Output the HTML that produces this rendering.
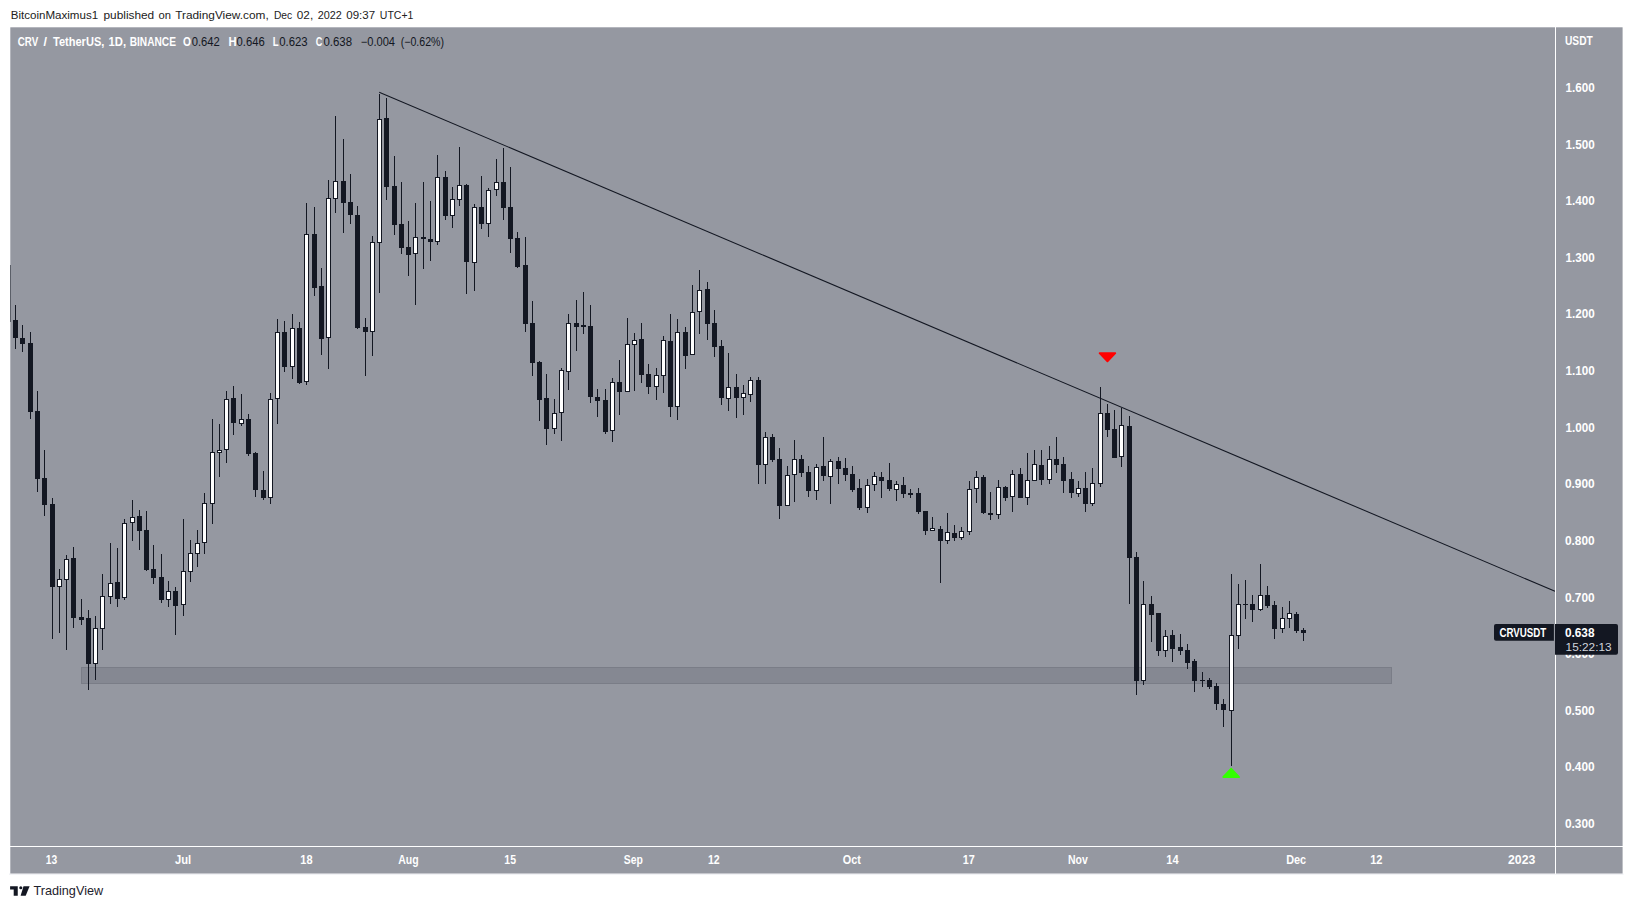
<!DOCTYPE html>
<html><head><meta charset="utf-8"><title>CRV / TetherUS chart</title>
<style>
html,body{margin:0;padding:0;background:#fff}
body{width:1633px;height:909px;position:relative;overflow:hidden;font-family:"Liberation Sans", sans-serif}
</style></head><body>
<svg width="1633" height="909" viewBox="0 0 1633 909" style="position:absolute;left:0;top:0" font-family='"Liberation Sans", sans-serif'><rect x="9" y="873.6" width="1614.5" height="1" fill="#e9ebf0"/><rect x="10.3" y="27.3" width="1612.3" height="846.2" fill="#9598a1"/><rect x="81.5" y="667.5" width="1310" height="16" fill="#858892" stroke="#7a7d87" stroke-width="1" shape-rendering="crispEdges"/><rect x="10" y="265" width="1" height="57" fill="#131722" opacity="0.55" shape-rendering="crispEdges"/><g shape-rendering="crispEdges"><path fill="#131722" d="M15 305h1v44h-1zM22 325h1v27h-1zM30 332h1v87h-1zM37 391h1v101h-1zM44 450h1v66h-1zM52 498h1v141h-1zM59 569h1v64h-1zM66 555h1v95h-1zM73 547h1v81h-1zM81 599h1v26h-1zM88 610h1v80h-1zM95 616h1v64h-1zM102 574h1v76h-1zM110 543h1v61h-1zM117 548h1v59h-1zM124 519h1v81h-1zM132 500h1v41h-1zM139 510h1v40h-1zM146 511h1v60h-1zM153 545h1v39h-1zM161 554h1v49h-1zM168 581h1v26h-1zM175 587h1v48h-1zM183 519h1v97h-1zM190 540h1v42h-1zM197 530h1v37h-1zM204 493h1v61h-1zM212 419h1v105h-1zM219 424h1v53h-1zM226 391h1v72h-1zM233 386h1v49h-1zM241 394h1v32h-1zM248 414h1v42h-1zM255 452h1v45h-1zM263 471h1v29h-1zM270 393h1v111h-1zM277 319h1v105h-1zM284 321h1v51h-1zM292 314h1v65h-1zM299 322h1v62h-1zM306 203h1v182h-1zM314 207h1v89h-1zM321 268h1v87h-1zM328 180h1v189h-1zM335 116h1v97h-1zM343 139h1v94h-1zM350 174h1v50h-1zM357 206h1v123h-1zM365 318h1v58h-1zM372 236h1v120h-1zM379 94h1v199h-1zM386 98h1v102h-1zM394 156h1v79h-1zM401 182h1v72h-1zM408 221h1v55h-1zM415 203h1v102h-1zM423 182h1v87h-1zM430 201h1v60h-1zM437 155h1v90h-1zM445 171h1v49h-1zM452 187h1v41h-1zM459 147h1v59h-1zM466 184h1v110h-1zM474 204h1v87h-1zM481 176h1v53h-1zM488 188h1v49h-1zM496 159h1v37h-1zM503 148h1v72h-1zM510 167h1v86h-1zM517 232h1v36h-1zM525 237h1v95h-1zM532 301h1v75h-1zM539 361h1v60h-1zM546 374h1v71h-1zM554 399h1v35h-1zM561 368h1v73h-1zM568 314h1v76h-1zM576 300h1v51h-1zM583 292h1v42h-1zM590 305h1v98h-1zM597 389h1v28h-1zM605 389h1v45h-1zM612 378h1v64h-1zM619 360h1v55h-1zM627 318h1v74h-1zM634 333h1v58h-1zM641 323h1v60h-1zM648 364h1v30h-1zM656 368h1v32h-1zM663 336h1v57h-1zM670 314h1v103h-1zM677 319h1v101h-1zM685 327h1v42h-1zM692 285h1v70h-1zM699 270h1v64h-1zM707 282h1v58h-1zM714 310h1v47h-1zM721 340h1v65h-1zM728 353h1v58h-1zM736 374h1v44h-1zM743 385h1v30h-1zM750 377h1v25h-1zM758 377h1v107h-1zM765 432h1v52h-1zM772 434h1v28h-1zM779 448h1v71h-1zM787 466h1v40h-1zM794 440h1v62h-1zM801 455h1v22h-1zM808 466h1v31h-1zM816 464h1v36h-1zM823 437h1v44h-1zM830 459h1v45h-1zM838 457h1v27h-1zM845 458h1v23h-1zM852 466h1v26h-1zM859 479h1v31h-1zM867 479h1v34h-1zM874 472h1v19h-1zM881 472h1v26h-1zM889 463h1v28h-1zM896 481h1v20h-1zM903 477h1v21h-1zM910 489h1v9h-1zM918 488h1v26h-1zM925 511h1v24h-1zM932 517h1v14h-1zM940 526h1v57h-1zM947 513h1v31h-1zM954 525h1v16h-1zM961 527h1v13h-1zM969 481h1v54h-1zM976 471h1v32h-1zM983 475h1v39h-1zM990 492h1v28h-1zM998 480h1v39h-1zM1005 486h1v15h-1zM1012 470h1v42h-1zM1020 468h1v30h-1zM1027 453h1v52h-1zM1034 450h1v31h-1zM1041 450h1v35h-1zM1049 446h1v38h-1zM1056 437h1v36h-1zM1063 457h1v36h-1zM1071 472h1v26h-1zM1078 481h1v16h-1zM1085 472h1v40h-1zM1092 468h1v38h-1zM1100 387h1v100h-1zM1107 404h1v33h-1zM1114 410h1v48h-1zM1121 408h1v59h-1zM1129 416h1v188h-1zM1136 552h1v143h-1zM1143 581h1v104h-1zM1151 596h1v46h-1zM1158 613h1v43h-1zM1165 630h1v27h-1zM1172 630h1v32h-1zM1180 634h1v21h-1zM1187 644h1v25h-1zM1194 659h1v33h-1zM1202 672h1v15h-1zM1209 678h1v11h-1zM1216 683h1v27h-1zM1223 699h1v28h-1zM1231 574h1v192h-1zM1238 584h1v65h-1zM1245 580h1v39h-1zM1252 595h1v27h-1zM1260 564h1v47h-1zM1267 586h1v22h-1zM1274 601h1v38h-1zM1282 607h1v26h-1zM1289 601h1v27h-1zM1296 612h1v21h-1zM1303 628h1v13h-1z"/><path fill="#131722" d="M13 320h5v18h-5zM20 338h5v6h-5zM28 343h5v69h-5zM35 411h5v68h-5zM42 478h5v27h-5zM50 504h5v83h-5zM57 579h5v8h-5zM64 559h5v21h-5zM71 558h5v60h-5zM79 617h5v3h-5zM86 618h5v46h-5zM93 628h5v36h-5zM100 596h5v33h-5zM108 583h5v14h-5zM115 582h5v17h-5zM122 523h5v75h-5zM130 517h5v6h-5zM137 516h5v15h-5zM144 530h5v40h-5zM151 569h5v9h-5zM159 577h5v23h-5zM166 591h5v9h-5zM173 591h5v15h-5zM181 571h5v34h-5zM188 553h5v19h-5zM195 543h5v11h-5zM202 503h5v40h-5zM210 452h5v52h-5zM217 450h5v3h-5zM224 399h5v51h-5zM231 398h5v25h-5zM239 419h5v5h-5zM246 419h5v35h-5zM253 453h5v37h-5zM261 490h5v8h-5zM268 399h5v99h-5zM275 332h5v67h-5zM282 332h5v35h-5zM290 328h5v39h-5zM297 328h5v55h-5zM304 234h5v148h-5zM312 234h5v54h-5zM319 286h5v53h-5zM326 198h5v140h-5zM333 181h5v18h-5zM341 181h5v22h-5zM348 202h5v13h-5zM355 215h5v113h-5zM363 327h5v5h-5zM370 242h5v90h-5zM377 119h5v124h-5zM384 118h5v69h-5zM392 186h5v39h-5zM399 224h5v24h-5zM406 247h5v8h-5zM413 237h5v17h-5zM421 237h5v2h-5zM428 239h5v3h-5zM435 177h5v65h-5zM443 177h5v39h-5zM450 199h5v17h-5zM457 185h5v15h-5zM464 185h5v77h-5zM472 207h5v56h-5zM479 207h5v17h-5zM486 190h5v34h-5zM494 182h5v8h-5zM501 182h5v26h-5zM508 207h5v32h-5zM515 238h5v29h-5zM523 265h5v59h-5zM530 323h5v40h-5zM537 362h5v38h-5zM544 398h5v31h-5zM552 413h5v16h-5zM559 370h5v43h-5zM566 323h5v49h-5zM574 323h5v4h-5zM581 325h5v2h-5zM588 326h5v71h-5zM595 397h5v4h-5zM603 400h5v32h-5zM610 382h5v49h-5zM617 382h5v10h-5zM625 344h5v48h-5zM632 340h5v5h-5zM639 339h5v36h-5zM646 374h5v13h-5zM654 375h5v12h-5zM661 340h5v36h-5zM668 341h5v66h-5zM675 332h5v75h-5zM683 332h5v24h-5zM690 312h5v43h-5zM697 290h5v22h-5zM705 289h5v35h-5zM712 323h5v24h-5zM719 346h5v52h-5zM726 387h5v12h-5zM734 387h5v11h-5zM741 393h5v5h-5zM748 380h5v15h-5zM756 380h5v85h-5zM763 437h5v28h-5zM770 437h5v23h-5zM777 459h5v47h-5zM785 475h5v31h-5zM792 459h5v16h-5zM799 459h5v14h-5zM806 472h5v19h-5zM814 467h5v24h-5zM821 466h5v10h-5zM828 461h5v16h-5zM836 461h5v8h-5zM843 468h5v7h-5zM850 474h5v16h-5zM857 488h5v20h-5zM865 485h5v23h-5zM872 476h5v9h-5zM879 477h5v4h-5zM887 480h5v9h-5zM894 484h5v6h-5zM901 485h5v9h-5zM908 493h5v2h-5zM916 493h5v19h-5zM923 511h5v20h-5zM930 528h5v3h-5zM938 529h5v12h-5zM945 532h5v9h-5zM952 533h5v5h-5zM959 531h5v7h-5zM967 489h5v43h-5zM974 477h5v12h-5zM981 477h5v36h-5zM988 513h5v2h-5zM996 487h5v28h-5zM1003 487h5v11h-5zM1010 474h5v23h-5zM1018 474h5v24h-5zM1025 480h5v18h-5zM1032 464h5v17h-5zM1039 465h5v15h-5zM1047 459h5v21h-5zM1054 459h5v6h-5zM1061 464h5v17h-5zM1069 479h5v14h-5zM1076 488h5v6h-5zM1083 488h5v16h-5zM1090 483h5v21h-5zM1098 413h5v71h-5zM1105 413h5v17h-5zM1112 429h5v29h-5zM1119 425h5v32h-5zM1127 426h5v132h-5zM1134 557h5v124h-5zM1141 604h5v77h-5zM1149 604h5v11h-5zM1156 613h5v38h-5zM1163 636h5v15h-5zM1170 635h5v14h-5zM1178 647h5v4h-5zM1185 650h5v13h-5zM1192 661h5v20h-5zM1200 680h5v1h-5zM1207 680h5v7h-5zM1214 686h5v18h-5zM1221 704h5v6h-5zM1229 635h5v76h-5zM1236 604h5v32h-5zM1243 604h5v1h-5zM1250 604h5v6h-5zM1258 595h5v15h-5zM1265 595h5v11h-5zM1272 605h5v24h-5zM1280 618h5v11h-5zM1287 613h5v6h-5zM1294 614h5v17h-5zM1301 630h5v3h-5z"/><path fill="#ffffff" d="M58 580h3v6h-3zM65 560h3v19h-3zM94 629h3v34h-3zM101 597h3v31h-3zM109 584h3v12h-3zM123 524h3v73h-3zM131 518h3v4h-3zM167 592h3v7h-3zM182 572h3v32h-3zM189 554h3v17h-3zM196 544h3v9h-3zM203 504h3v38h-3zM211 453h3v50h-3zM218 451h3v1h-3zM225 400h3v49h-3zM240 420h3v3h-3zM269 400h3v97h-3zM276 333h3v65h-3zM291 329h3v37h-3zM305 235h3v146h-3zM327 199h3v138h-3zM334 182h3v16h-3zM371 243h3v88h-3zM378 120h3v122h-3zM414 238h3v15h-3zM436 178h3v63h-3zM451 200h3v15h-3zM458 186h3v13h-3zM473 208h3v54h-3zM487 191h3v32h-3zM495 183h3v6h-3zM553 414h3v14h-3zM560 371h3v41h-3zM567 324h3v47h-3zM611 383h3v47h-3zM626 345h3v46h-3zM633 341h3v3h-3zM655 376h3v10h-3zM662 341h3v34h-3zM676 333h3v73h-3zM691 313h3v41h-3zM698 291h3v20h-3zM727 388h3v10h-3zM742 394h3v3h-3zM749 381h3v13h-3zM764 438h3v26h-3zM786 476h3v29h-3zM793 460h3v14h-3zM815 468h3v22h-3zM829 462h3v14h-3zM866 486h3v21h-3zM873 477h3v7h-3zM895 485h3v4h-3zM931 529h3v1h-3zM946 533h3v7h-3zM960 532h3v5h-3zM968 490h3v41h-3zM975 478h3v10h-3zM997 488h3v26h-3zM1011 475h3v21h-3zM1026 481h3v16h-3zM1033 465h3v15h-3zM1048 460h3v19h-3zM1077 489h3v4h-3zM1091 484h3v19h-3zM1099 414h3v69h-3zM1120 426h3v30h-3zM1142 605h3v75h-3zM1164 637h3v13h-3zM1230 636h3v74h-3zM1237 605h3v30h-3zM1259 596h3v13h-3zM1281 619h3v9h-3zM1288 614h3v4h-3z"/></g><line x1="379.2" y1="92.2" x2="1555" y2="591.3" stroke="#131722" stroke-width="1.05"/><path d="M1099.6 353.2H1115.3L1107.45 361.4z" fill="#ff0000" stroke="#ff0000" stroke-width="1.8" stroke-linejoin="round"/><path d="M1231.15 768.5L1239.2 777.1H1223.1z" fill="#33ff00" stroke="#33ff00" stroke-width="1.6" stroke-linejoin="round"/><g shape-rendering="crispEdges"><rect x="10" y="846" width="1612.5" height="1" fill="#ffffff"/><rect x="1555" y="27" width="1" height="846.5" fill="#ffffff"/></g><text transform="translate(10.70 18.60) scale(0.9905 1)" font-size="11.7" font-weight="normal" fill="#222222">BitcoinMaximus1</text><text transform="translate(103.50 18.60) scale(1.0134 1)" font-size="11.7" font-weight="normal" fill="#222222">published</text><text transform="translate(158.40 18.60) scale(0.9600 1)" font-size="11.7" font-weight="normal" fill="#222222">on</text><text transform="translate(175.20 18.60) scale(1.0142 1)" font-size="11.7" font-weight="normal" fill="#222222">TradingView.com,</text><text transform="translate(273.90 18.60) scale(0.8787 1)" font-size="11.7" font-weight="normal" fill="#222222">Dec</text><text transform="translate(296.80 18.60) scale(1.0062 1)" font-size="11.7" font-weight="normal" fill="#222222">02,</text><text transform="translate(317.80 18.60) scale(0.9255 1)" font-size="11.7" font-weight="normal" fill="#222222">2022</text><text transform="translate(346.30 18.60) scale(0.9844 1)" font-size="11.7" font-weight="normal" fill="#222222">09:37</text><text transform="translate(379.80 18.60) scale(0.8984 1)" font-size="11.7" font-weight="normal" fill="#222222">UTC+1</text><text transform="translate(17.70 46.00) scale(0.8162 1)" font-size="12" font-weight="bold" fill="#fff">CRV</text><text transform="translate(43.50 46.00) scale(1.0500 1)" font-size="12" font-weight="bold" fill="#fff">/</text><text transform="translate(53.00 46.00) scale(0.9215 1)" font-size="12" font-weight="bold" fill="#fff">TetherUS,</text><text transform="translate(108.60 46.00) scale(0.9378 1)" font-size="12" font-weight="bold" fill="#fff">1D,</text><text transform="translate(129.70 46.00) scale(0.8452 1)" font-size="12" font-weight="bold" fill="#fff">BINANCE</text><text transform="translate(183.00 46.00) scale(0.8556 1)" font-size="12" font-weight="bold" fill="#fff">O</text><text transform="translate(228.50 46.00) scale(0.9375 1)" font-size="12" font-weight="bold" fill="#fff">H</text><text transform="translate(272.80 46.00) scale(0.8000 1)" font-size="12" font-weight="bold" fill="#fff">L</text><text transform="translate(315.80 46.00) scale(0.7556 1)" font-size="12" font-weight="bold" fill="#fff">C</text><text transform="translate(191.70 46.00) scale(0.9356 1)" font-size="12" font-weight="normal" fill="#131722">0.642</text><text transform="translate(236.60 46.00) scale(0.9389 1)" font-size="12" font-weight="normal" fill="#131722">0.646</text><text transform="translate(279.20 46.00) scale(0.9488 1)" font-size="12" font-weight="normal" fill="#131722">0.623</text><text transform="translate(323.50 46.00) scale(0.9521 1)" font-size="12" font-weight="normal" fill="#131722">0.638</text><text transform="translate(360.80 46.00) scale(0.9260 1)" font-size="12" font-weight="normal" fill="#131722">−0.004</text><text transform="translate(400.70 46.00) scale(0.8831 1)" font-size="12" font-weight="normal" fill="#131722">(−0.62%)</text><text transform="translate(1565.00 45.00) scale(0.8171 1)" font-size="12.5" font-weight="bold" fill="#fff">USDT</text><text transform="translate(1565.40 92.00) scale(0.9352 1)" font-size="12.5" font-weight="bold" fill="#fff">1.600</text><text transform="translate(1565.40 148.62) scale(0.9352 1)" font-size="12.5" font-weight="bold" fill="#fff">1.500</text><text transform="translate(1565.40 205.24) scale(0.9352 1)" font-size="12.5" font-weight="bold" fill="#fff">1.400</text><text transform="translate(1565.40 261.86) scale(0.9352 1)" font-size="12.5" font-weight="bold" fill="#fff">1.300</text><text transform="translate(1565.40 318.48) scale(0.9352 1)" font-size="12.5" font-weight="bold" fill="#fff">1.200</text><text transform="translate(1565.40 375.10) scale(0.9352 1)" font-size="12.5" font-weight="bold" fill="#fff">1.100</text><text transform="translate(1565.40 431.72) scale(0.9352 1)" font-size="12.5" font-weight="bold" fill="#fff">1.000</text><text transform="translate(1564.90 488.34) scale(0.9512 1)" font-size="12.5" font-weight="bold" fill="#fff">0.900</text><text transform="translate(1564.90 544.96) scale(0.9512 1)" font-size="12.5" font-weight="bold" fill="#fff">0.800</text><text transform="translate(1564.90 601.58) scale(0.9512 1)" font-size="12.5" font-weight="bold" fill="#fff">0.700</text><text transform="translate(1564.90 658.20) scale(0.9512 1)" font-size="12.5" font-weight="bold" fill="#fff">0.600</text><text transform="translate(1564.90 714.82) scale(0.9512 1)" font-size="12.5" font-weight="bold" fill="#fff">0.500</text><text transform="translate(1564.90 771.44) scale(0.9512 1)" font-size="12.5" font-weight="bold" fill="#fff">0.400</text><text transform="translate(1564.90 828.06) scale(0.9512 1)" font-size="12.5" font-weight="bold" fill="#fff">0.300</text><text transform="translate(45.75 864.10) scale(0.8243 1)" font-size="12.5" font-weight="bold" fill="#fff">13</text><text transform="translate(174.90 864.10) scale(0.8984 1)" font-size="12.5" font-weight="bold" fill="#fff">Jul</text><text transform="translate(300.35 864.10) scale(0.8816 1)" font-size="12.5" font-weight="bold" fill="#fff">18</text><text transform="translate(398.25 864.10) scale(0.8410 1)" font-size="12.5" font-weight="bold" fill="#fff">Aug</text><text transform="translate(504.30 864.10) scale(0.8458 1)" font-size="12.5" font-weight="bold" fill="#fff">15</text><text transform="translate(623.80 864.10) scale(0.8330 1)" font-size="12.5" font-weight="bold" fill="#fff">Sep</text><text transform="translate(707.90 864.10) scale(0.8458 1)" font-size="12.5" font-weight="bold" fill="#fff">12</text><text transform="translate(842.75 864.10) scale(0.8720 1)" font-size="12.5" font-weight="bold" fill="#fff">Oct</text><text transform="translate(962.65 864.10) scale(0.8673 1)" font-size="12.5" font-weight="bold" fill="#fff">17</text><text transform="translate(1067.95 864.10) scale(0.8410 1)" font-size="12.5" font-weight="bold" fill="#fff">Nov</text><text transform="translate(1166.30 864.10) scale(0.8888 1)" font-size="12.5" font-weight="bold" fill="#fff">14</text><text transform="translate(1286.15 864.10) scale(0.8747 1)" font-size="12.5" font-weight="bold" fill="#fff">Dec</text><text transform="translate(1370.20 864.10) scale(0.8888 1)" font-size="12.5" font-weight="bold" fill="#fff">12</text><text transform="translate(1508.00 864.10) scale(0.9836 1)" font-size="12.5" font-weight="bold" fill="#fff">2023</text><text transform="translate(33.40 895.40) scale(1.0392 1)" font-size="12.2" font-weight="normal" fill="#1e222d">TradingView</text><path d="M1553.9 624v16.7h-57.9a2 2 0 0 1-2-2v-12.7a2 2 0 0 1 2-2z" fill="#131722"/><path d="M1555 624h61a2 2 0 0 1 2 2v26.7a2 2 0 0 1-2 2h-61z" fill="#131722"/><text transform="translate(1499.40 636.90) scale(0.8126 1)" font-size="12" font-weight="bold" fill="#fff">CRVUSDT</text><text transform="translate(1564.90 636.90) scale(0.9480 1)" font-size="12.5" font-weight="bold" fill="#fff">0.638</text><text transform="translate(1565.60 650.80) scale(1.0277 1)" font-size="11.5" font-weight="normal" fill="#d1d4dc">15:22:13</text><g fill="#131722"><path d="M10.1 886.3H17.75V895.7H13.7V889.6H10.1z"/><circle cx="20.8" cy="887.75" r="1.55"/><path d="M23.5 886.3H29.6L25.7 895.7H20.6z"/></g></svg>
</body></html>
